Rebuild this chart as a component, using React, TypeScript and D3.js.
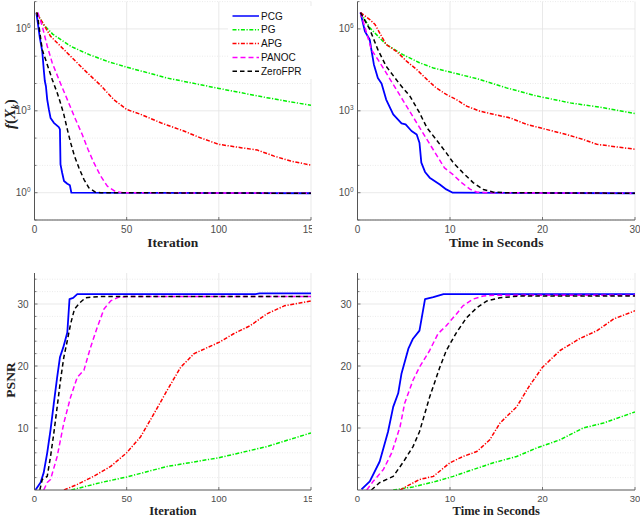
import React from 'react';
import * as d3 from 'd3';

type Pt = [number, number];

const SERIES_NAMES = ['PCG', 'PG', 'APG', 'PANOC', 'ZeroFPR'];
const SERIES_COLORS = ['#0000ff', '#00f000', '#ff0000', '#ff00ff', '#000000'];
const SERIES_DASH = ['none', '4,1.6,1.2,1.6', '4,1.6,1.2,1.6', '5,3', '4.5,3'];

const ITER_TICKS = [0, 50, 100, 150];
const TIME_TICKS = [0, 10, 20, 30];
const LOG_TICKS = [0, 3, 6];
const LOG_MINOR = [-1, 0, 1, 2, 3, 4, 5, 6, 7];
const PSNR_TICKS = [10, 20, 30];
const PSNR_MINOR = [2, 4, 6, 8, 10, 12, 14, 16, 18, 20, 22, 24, 26, 28, 30, 32, 34];

// log10 f(X_k) vs iteration
const fIterPCG: Pt[] = [[1, 6.6], [1.8, 6.22], [2.9, 5.67], [4.2, 5.18], [5.1, 4.45], [5.6, 4.09], [6.2, 3.9], [6.9, 3.41], [7.8, 3.05], [8.7, 2.74], [10.5, 2.56], [13.2, 2.4], [13.8, 2.32], [14.1, 1.04], [15, 0.73], [16, 0.43], [17.8, 0.33], [19.2, 0.27], [20, 0], [150, -0.02]];
const fIterPG: Pt[] = [[1, 6.6], [5, 6.15], [10, 5.8], [20, 5.35], [30, 5.05], [40, 4.8], [50, 4.6], [72, 4.2], [100, 3.82], [126, 3.48], [150, 3.2]];
const fIterAPG: Pt[] = [[1, 6.6], [5, 6.16], [8.7, 5.73], [17.8, 5.12], [26.8, 4.51], [35.9, 3.93], [43, 3.41], [50, 3.05], [57.6, 2.87], [68.5, 2.56], [81, 2.26], [90, 2.01], [100, 1.77], [112, 1.65], [121, 1.56], [130, 1.34], [139, 1.16], [150, 1.01]];
const fIterPANOC: Pt[] = [[1.8, 6.6], [4.2, 6.1], [6.9, 5.37], [9.6, 4.76], [13.2, 4.15], [17.8, 3.41], [22.3, 2.68], [25.9, 2.13], [29, 1.59], [32.2, 1.1], [35.9, 0.61], [39.5, 0.24], [44, 0.04], [48, 0], [150, -0.02]];
const fIterZeroFPR: Pt[] = [[1.4, 6.6], [4.2, 5.24], [6.9, 4.7], [9.6, 4.15], [12.3, 3.66], [13.8, 3.35], [15.9, 2.87], [17.8, 2.32], [19.6, 1.83], [21.7, 1.34], [24.1, 0.91], [26.8, 0.49], [29.5, 0.18], [33, 0.02], [36, 0], [150, -0.02]];

// log10 f(X_k) vs time
const fTimePCG: Pt[] = [[0.32, 6.6], [0.8, 5.91], [1.33, 5.6], [1.5, 5.24], [1.77, 4.7], [2.2, 4.2], [2.6, 4.0], [3.1, 3.41], [3.86, 2.87], [4.76, 2.54], [5.2, 2.5], [5.84, 2.26], [6.4, 2.13], [6.7, 1.83], [6.9, 1.1], [7.3, 0.76], [7.8, 0.55], [8.9, 0.3], [9.6, 0.12], [10.3, 0], [30, -0.02]];
const fTimePG: Pt[] = [[0.32, 6.6], [1.33, 6.04], [2.4, 5.67], [3.1, 5.43], [4.9, 5.06], [6.7, 4.76], [8.2, 4.57], [10.35, 4.39], [13.2, 4.15], [16.1, 3.84], [19.4, 3.54], [23, 3.29], [26.6, 3.11], [30, 2.9]];
const fTimeAPG: Pt[] = [[0.32, 6.6], [1.33, 6.34], [1.9, 6.16], [2.6, 5.73], [3.1, 5.43], [4.2, 5.18], [5.3, 4.82], [6.4, 4.51], [7.5, 4.15], [8.5, 3.84], [9.6, 3.6], [10.7, 3.41], [11.8, 3.17], [13.2, 2.99], [14.7, 2.87], [16.5, 2.74], [18.3, 2.5], [20.4, 2.32], [22.6, 2.13], [24.4, 1.95], [25.9, 1.77], [27.3, 1.71], [30, 1.59]];
const fTimePANOC: Pt[] = [[0.32, 6.6], [0.9, 5.95], [1.5, 5.24], [2.2, 4.88], [3.1, 4.39], [4.2, 3.78], [5.3, 3.17], [6.4, 2.56], [7.5, 1.95], [8.4, 1.46], [9.4, 0.91], [10.3, 0.67], [11.25, 0.37], [12.2, 0.12], [12.9, 0.02], [14, 0], [30, -0.02]];
const fTimeZeroFPR: Pt[] = [[0.32, 6.6], [1.33, 5.98], [2.2, 5.24], [3.1, 4.63], [4.6, 3.96], [5.66, 3.54], [6.7, 2.93], [7.5, 2.38], [8.5, 1.95], [9.6, 1.46], [10.35, 1.1], [11.4, 0.73], [12.5, 0.37], [13.6, 0.12], [14.7, 0.02], [16, 0], [30, -0.02]];

// PSNR vs iteration
const pIterPCG: Pt[] = [[0.5, 0], [3.3, 1.2], [5, 2.8], [6.9, 6], [8.7, 9.7], [10.5, 14], [12.3, 18.2], [13.8, 21.4], [15.6, 23], [17.8, 25.4], [19, 30.8], [21, 31], [23.2, 31.6], [120, 31.6], [122, 31.7], [150, 31.7]];
const pIterPG: Pt[] = [[20, 0], [36, 1.2], [50, 2.1], [72, 3.8], [100, 5.2], [126, 7], [150, 9.2]];
const pIterAPG: Pt[] = [[16, 0], [23.2, 0.9], [32, 2.2], [41.3, 3.8], [50, 6], [57.6, 8.6], [65, 12.4], [72, 16.1], [79.3, 19.8], [86.6, 22], [94, 23], [100, 23.8], [108, 25.2], [117, 26.5], [126, 28.4], [135.5, 29.7], [150, 30.5]];
const pIterPANOC: Pt[] = [[5, 0], [6.9, 1.2], [8.7, 1.7], [12.3, 5.4], [15.9, 10.8], [19.6, 15], [23.2, 18.2], [26.8, 19.3], [30.4, 23], [34, 26.2], [37.7, 29.2], [41.3, 30.5], [45.8, 31.1], [50, 31.2], [150, 31.2]];
const pIterZeroFPR: Pt[] = [[2.9, 0], [4.2, 1.7], [6.9, 2.2], [8.7, 5.4], [10.5, 9.2], [12.3, 13.4], [14.1, 17.7], [15.9, 21.4], [17.8, 24.1], [19.6, 26.8], [21.7, 29.2], [24.6, 30.2], [27.7, 31], [30.4, 31.1], [35, 31.2], [150, 31.2]];

// PSNR vs time
const pTimePCG: Pt[] = [[0.43, 0.1], [1.33, 1.4], [2.4, 4.6], [3.3, 9.4], [3.86, 13.4], [4.4, 15.6], [4.76, 18.8], [5.5, 22.8], [6, 24.4], [6.7, 25.7], [7.3, 30.8], [8.2, 31.1], [9.3, 31.6], [30, 31.6]];
const pTimePG: Pt[] = [[3.86, 0], [6, 0.5], [8.5, 1.4], [10.35, 2.2], [12.5, 3.3], [14.7, 4.4], [17.2, 5.4], [19.4, 6.8], [21.9, 8.1], [24.4, 10], [26.6, 10.8], [30, 12.6]];
const pTimeAPG: Pt[] = [[4.6, 0], [5.7, 0.9], [6.7, 1.7], [8.2, 2.2], [10, 4.4], [11.4, 5.4], [12.9, 6.2], [14.3, 8.1], [15.4, 10.8], [17.2, 13.4], [18.5, 16.6], [20, 19.8], [21.9, 22.5], [24, 24.4], [25.9, 25.7], [27.7, 27.6], [30, 28.9]];
const pTimePANOC: Pt[] = [[1, 0], [1.7, 1.4], [2.8, 3.3], [3.7, 6], [4.6, 10.2], [5.1, 14], [6, 17.7], [6.7, 19.8], [7.8, 22.5], [8.7, 25.2], [9.6, 26.5], [10.7, 28.4], [11.4, 29.7], [12.5, 30.8], [13.6, 31.3], [14.7, 31.4], [30, 31.4]];
const pTimeZeroFPR: Pt[] = [[1.5, 0], [2.4, 1.2], [3.86, 2.2], [4.9, 4.4], [6, 7], [6.7, 9.4], [7.8, 15], [8.9, 19.8], [9.6, 22.5], [10.7, 25.4], [11.8, 27.8], [12.9, 29.4], [14, 30.5], [15.4, 31], [17.6, 31.3], [30, 31.3]];

const TICK_FONT = '"Liberation Sans", Arial, sans-serif';
const LABEL_FONT = '"Liberation Serif", "DejaVu Serif", serif';
const TICK_COLOR = '#4d4d4d';
const GRID_MAJOR = '#e3e3e3';
const GRID_MINOR = '#e6e6e6';

interface PanelProps {
  id: string;
  left: number;
  right: number;
  top: number;
  bottom: number;
  xMax: number;
  xTicks: number[];
  log: boolean;
  series: Pt[][];
  xLabel: string;
  labelOffset: number;
  labelSize: number;
  tickOffset: number;
  tickSize: number;
  clipW: number;
  clipX: number;
  legend?: boolean;
}

function Panel(p: PanelProps) {
  const x = d3.scaleLinear().domain([0, p.xMax]).range([p.left, p.right]);
  const y = p.log
    ? d3.scaleLinear().domain([-1, 7]).range([p.bottom, p.top])
    : d3.scaleLinear().domain([0, 35]).range([p.bottom, p.top]);
  const yMajor = p.log ? LOG_TICKS : PSNR_TICKS;
  const yMinor = p.log ? LOG_MINOR : PSNR_MINOR;
  const line = d3.line<Pt>().x((d) => x(d[0])).y((d) => y(d[1]));
  const clipId = 'clip-' + p.id;
  const outerId = 'outer-' + p.id;
  const tickLabelY = p.bottom + p.tickOffset;
  return (
    <g clipPath={`url(#${outerId})`}>
      <defs>
        <clipPath id={clipId}>
          <rect x={p.left} y={p.top} width={p.right - p.left} height={p.bottom - p.top} />
        </clipPath>
        <clipPath id={outerId}>
          <rect x={p.clipX} y={0} width={p.clipW} height={518} />
        </clipPath>
      </defs>
      {yMinor.filter((v) => !yMajor.includes(v)).map((v) => (
        <line key={'mg' + v} x1={p.left} x2={p.right} y1={y(v)} y2={y(v)} stroke={GRID_MINOR} strokeWidth={0.8} strokeDasharray="1,1.5" />
      ))}
      {yMajor.map((v) => (
        <line key={'yg' + v} x1={p.left} x2={p.right} y1={y(v)} y2={y(v)} stroke={GRID_MAJOR} strokeWidth={0.8} />
      ))}
      {p.xTicks.filter((v) => v > 0).map((v) => (
        <line key={'xg' + v} x1={x(v)} x2={x(v)} y1={p.top} y2={p.bottom} stroke={GRID_MAJOR} strokeWidth={0.8} />
      ))}
      <g clipPath={`url(#${clipId})`}>
        {p.series.map((s, i) => (
          <path key={i} d={line(s) || ''} fill="none" stroke={SERIES_COLORS[i]} strokeWidth={i === 0 ? 1.8 : 1.5} strokeDasharray={SERIES_DASH[i]} strokeLinejoin="round" />
        ))}
      </g>
      <line x1={p.left} x2={p.left} y1={p.top} y2={p.bottom} stroke="#555" strokeWidth={1} />
      <line x1={p.left} x2={p.right} y1={p.bottom} y2={p.bottom} stroke="#555" strokeWidth={1} />
      {yMinor.map((v) => (
        <line key={'mt' + v} x1={p.left} x2={p.left + (yMajor.includes(v) ? 3 : 2)} y1={y(v)} y2={y(v)} stroke="#555" strokeWidth={0.8} />
      ))}
      {p.xTicks.map((v) => (
        <line key={'xt' + v} x1={x(v)} x2={x(v)} y1={p.bottom} y2={p.bottom - 3} stroke="#555" strokeWidth={0.8} />
      ))}
      {p.xTicks.map((v) => (
        <text key={'xl' + v} x={x(v)} y={tickLabelY} textAnchor="middle" fontFamily={TICK_FONT} fontSize={p.tickSize} fill={TICK_COLOR}>{v}</text>
      ))}
      {yMajor.map((v) =>
        p.log ? (
          <text key={'yl' + v} x={p.left - 4} y={y(v) + 3.5} textAnchor="end" fontFamily={TICK_FONT} fontSize={10} fill={TICK_COLOR}>
            10<tspan dy={-4} fontSize={6.5}>{v}</tspan>
          </text>
        ) : (
          <text key={'yl' + v} x={p.left - 6} y={y(v) + 3.5} textAnchor="end" fontFamily={TICK_FONT} fontSize={10} fill={TICK_COLOR}>{v}</text>
        )
      )}
      <text x={(p.left + p.right) / 2} y={p.bottom + p.labelOffset} textAnchor="middle" fontFamily={LABEL_FONT} fontWeight="bold" fontSize={p.labelSize} fill="#222">{p.xLabel}</text>
      {p.legend && (
        <g>
          <rect x={228} y={6} width={84} height={73} fill="#fff" />
          {SERIES_NAMES.map((n, i) => {
            const ly = 16 + i * 13.8;
            return (
              <g key={n}>
                <line x1={232.5} x2={259} y1={ly} y2={ly} stroke={SERIES_COLORS[i]} strokeWidth={1.5} strokeDasharray={SERIES_DASH[i]} />
                <text x={261} y={ly + 3.5} fontFamily={TICK_FONT} fontSize={10} fill="#111">{n}</text>
              </g>
            );
          })}
        </g>
      )}
    </g>
  );
}

export default function App() {
  return (
    <svg width={640} height={518} style={{ position: 'absolute', left: 0, top: 0, background: '#fff' }}>
      <rect width={640} height={518} fill="#fff" />
      <Panel id="a" left={34.5} right={311} top={1.6} bottom={220} xMax={150} xTicks={ITER_TICKS} log={true}
        labelOffset={26.5} labelSize={13.5} tickOffset={13} tickSize={10}
        series={[fIterPCG, fIterPG, fIterAPG, fIterPANOC, fIterZeroFPR]} xLabel="Iteration" clipX={0} clipW={312} legend={true} />
      <Panel id="b" left={357.5} right={635} top={1.6} bottom={220} xMax={30} xTicks={TIME_TICKS} log={true}
        labelOffset={26.5} labelSize={13.5} tickOffset={13} tickSize={10}
        series={[fTimePCG, fTimePG, fTimeAPG, fTimePANOC, fTimeZeroFPR]} xLabel="Time in Seconds" clipX={312} clipW={328} />
      <Panel id="c" left={34.5} right={311} top={273} bottom={490} xMax={150} xTicks={ITER_TICKS} log={false}
        labelOffset={25} labelSize={12.5} tickOffset={11.5} tickSize={9.5}
        series={[pIterPCG, pIterPG, pIterAPG, pIterPANOC, pIterZeroFPR]} xLabel="Iteration" clipX={0} clipW={312} />
      <Panel id="d" left={357.5} right={635} top={273} bottom={490} xMax={30} xTicks={TIME_TICKS} log={false}
        labelOffset={25} labelSize={12.5} tickOffset={11.5} tickSize={9.5}
        series={[pTimePCG, pTimePG, pTimeAPG, pTimePANOC, pTimeZeroFPR]} xLabel="Time in Seconds" clipX={312} clipW={328} />
      <text transform="translate(15,114) rotate(-90)" textAnchor="middle" fontFamily={LABEL_FONT} fontSize={15} fontWeight="bold" fill="#222">
        <tspan fontStyle="italic">f</tspan>(<tspan fontStyle="italic">X</tspan><tspan fontStyle="italic" fontSize={9.5} dy={3}>k</tspan><tspan dy={-3}>)</tspan>
      </text>
      <text transform="translate(15,380) rotate(-90)" textAnchor="middle" fontFamily={LABEL_FONT} fontSize={13.5} fontWeight="bold" fill="#222">PSNR</text>
    </svg>
  );
}
